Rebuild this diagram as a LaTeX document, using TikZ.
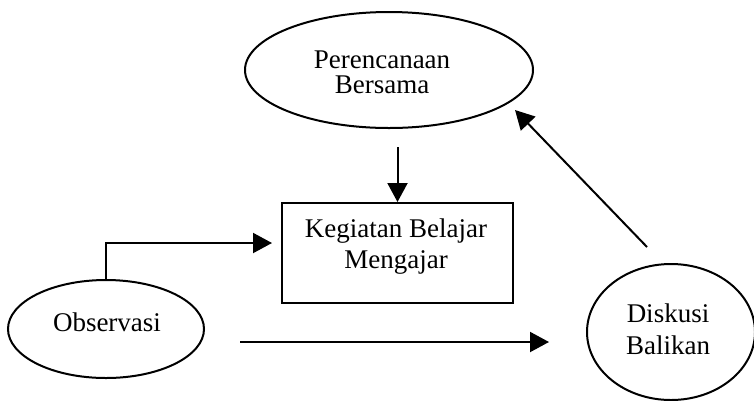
\documentclass[tikz,border=0pt]{standalone}
\usepackage{fontspec}
\setmainfont{Liberation Serif}
\usetikzlibrary{shapes.geometric,arrows.meta}
\begin{document}
\begin{tikzpicture}[x=1pt,y=-1pt,
  line width=2pt,
  oval/.style={draw,ellipse,inner sep=0pt},
  boxnode/.style={draw,rectangle,inner sep=0pt},
  txt/.style={align=center,inner sep=0pt,font=\fontsize{27}{31}\selectfont},
  arr/.style={-{Triangle[length=19pt,width=20pt]}}]
\useasboundingbox (0,0) rectangle (754,400);
% shapes
\node[oval,minimum width=288pt,minimum height=116pt] (per) at (389,70) {};
\node[boxnode,minimum width=231pt,minimum height=100pt] (kbm) at (397.5,253) {};
\node[oval,minimum width=196pt,minimum height=98pt] (obs) at (106,329) {};
\node[oval,minimum width=168pt,minimum height=136pt] (dis) at (671,332) {};
% texts
\node[txt,font=\fontsize{27}{25}\selectfont] (pertxt) at (382,72) {Perencanaan\\Bersama};
\node[txt] (kbmtxt) at (396,247) {Kegiatan Belajar\\Mengajar};
\node[txt] (obstxt) at (107,322) {Observasi};
\node[txt,font=\fontsize{27}{32}\selectfont] (distxt) at (668,329) {Diskusi\\Balikan};
% free connector ends
\coordinate (a1) at (397.5,147);
\coordinate (b1) at (272,243);
\coordinate (c0) at (240,342);
\coordinate (c1) at (549,342);
\coordinate (d0) at (647,247);
\coordinate (d1) at (515,110);
% connectors
\draw[arr] (a1) -- (kbm.north);
\draw[arr] (obs.north) |- (b1);
\draw[arr] (c0) -- (c1);
\draw[arr] (d0) -- (d1);
\end{tikzpicture}
\end{document}
